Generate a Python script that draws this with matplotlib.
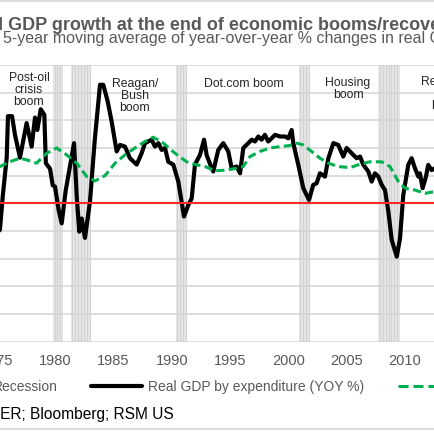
import numpy as np
import matplotlib
matplotlib.use("Agg")
import matplotlib.pyplot as plt
import matplotlib.transforms as mtrans
from matplotlib.lines import Line2D
from matplotlib.patches import Rectangle

plt.rcParams['font.family'] = ['Liberation Sans', 'DejaVu Sans']

# ---------------- data ----------------
gdp_years = [1975.0, 1975.36, 1975.6, 1975.94, 1976.05, 1976.4, 1976.65, 1977.08, 1977.65,
             1978.08, 1978.37, 1978.57, 1978.86, 1979.17, 1979.3, 1979.66, 1979.89, 1980.09,
             1980.4, 1980.66, 1981.0, 1981.72, 1981.95, 1982.17, 1982.38, 1982.66, 1983.09,
             1983.5, 1983.95, 1984.23, 1984.6, 1984.95, 1985.38, 1985.67, 1986.09, 1986.52,
             1987.1, 1987.52, 1987.81, 1988.09, 1988.38, 1988.67, 1988.96, 1989.24, 1989.53,
             1989.81, 1990.24, 1990.67, 1991.16, 1991.53, 1991.82, 1992.1, 1992.53, 1992.88,
             1993.1, 1993.5, 1993.67, 1994.1, 1994.53, 1994.96, 1995.25, 1995.68, 1995.97,
             1996.25, 1996.68, 1996.97, 1997.25, 1997.54, 1997.82, 1998.1, 1998.39, 1998.68,
             1998.97, 1999.4, 1999.83, 2000.11, 2000.4, 2000.54, 2000.97, 2001.4, 2001.89,
             2002.25, 2002.54, 2002.83, 2003.26, 2003.55, 2003.98, 2004.4, 2004.83, 2005.12,
             2005.55, 2005.98, 2006.27, 2006.55, 2006.98, 2007.27, 2007.55, 2007.84, 2008.13,
             2008.41, 2008.7, 2008.99, 2009.42, 2009.7, 2009.98, 2010.41, 2010.7, 2010.98,
             2011.27, 2011.41, 2011.64, 2011.93, 2012.12, 2012.41, 2012.7, 2012.9]
gdp_yoy = [-2.3, -1.9, 0.5, 3.3, 6.3, 6.3, 4.95, 3.3, 5.8,
           4.1, 6.2, 5.3, 6.8, 6.4, 2.9, 2.5, 1.3, 1.2,
           -0.5, -1.45, 0.9, 4.35, 0.5, -2.05, -1.1, -2.5, 0.15,
           4.6, 8.57, 8.57, 7.4, 5.9, 3.75, 4.22, 4.1, 3.26,
           2.8, 3.62, 4.35, 4.47, 4.6, 4.1, 4.35, 3.86, 4.0,
           3.0, 2.8, 1.57, -0.96, -0.12, 0.36, 2.8, 3.5, 4.6,
           3.5, 2.6, 2.3, 3.86, 4.35, 3.75, 2.54, 2.66, 2.17,
           4.0, 4.35, 4.6, 4.47, 4.83, 4.6, 4.95, 4.47, 4.7,
           4.95, 4.83, 4.83, 4.7, 5.3, 4.35, 2.78, 1.09, 0.24,
           1.33, 1.45, 2.17, 1.93, 3.26, 4.35, 4.22, 3.38, 4.0,
           3.62, 3.26, 3.38, 2.78, 2.3, 1.57, 2.17, 1.93, 1.33,
           0.96, -0.6, -2.66, -3.86, -2.54, 0.6, 2.78, 3.26, 2.54,
           1.93, 2.17, 1.09, 1.93, 2.78, 2.4, 2.54, 2.4]

ma_years = [1975.0, 1975.36, 1976.2, 1977.08, 1977.65, 1978.5, 1979.37, 1980.23, 1981.09,
            1981.95, 1982.81, 1983.52, 1984.38, 1985.24, 1986.09, 1986.95, 1987.81, 1988.52,
            1989.38, 1990.39, 1991.39, 1992.25, 1992.96, 1993.82, 1994.82, 1995.68, 1996.25,
            1996.82, 1997.68, 1998.54, 1999.4, 2000.26, 2000.83, 2001.4, 2002.11, 2002.83,
            2003.55, 2004.4, 2005.4, 2006.27, 2007.12, 2008.13, 2008.84, 2009.56, 2010.13,
            2010.98, 2011.84, 2012.7, 2013.0]
ma_vals = [2.55, 2.66, 3.0, 3.26, 3.14, 2.9, 3.62, 4.0, 3.5,
           2.9, 1.93, 1.62, 2.0, 2.9, 3.5, 4.0, 4.47, 4.78,
           4.35, 3.62, 3.0, 2.78, 2.66, 2.35, 2.4, 2.54, 2.66,
           3.38, 3.75, 4.0, 4.1, 4.18, 4.35, 4.22, 3.75, 3.26,
           2.9, 2.66, 2.58, 2.83, 3.0, 3.0, 2.66, 1.57, 1.09,
           0.96, 0.72, 0.85, 0.9]

recession_start = [1973.85, 1979.92, 1981.46, 1990.47, 2001.0, 2007.84]
recession_end = [1975.25, 1980.77, 1983.09, 1991.44, 2002.0, 2009.7]

xtick_years = [1975, 1980, 1985, 1990, 1995, 2000, 2005, 2010, 2015]
yticks = [-10, -8, -6, -4, -2, 0, 2, 4, 6, 8, 10]

boom_labels = ["Post-oil\ncrisis\nboom", "Reagan/\nBush\nboom", "Dot.com boom",
               "Housing\nboom", "Recovery\n\nboom"]
boom_x = [1977.85, 1986.95, 1996.27, 2005.24, 2013.73]
boom_y = [8.26, 7.8, 8.7, 8.34, 7.98]

title = "Real GDP growth at the end of economic booms/recoveries"
subtitle = "5-year moving average of year-over-year % changes in real GDP"
source = "Source: NBER; Bloomberg; RSM US"
legend_labels = ["Recession", "Real GDP by expenditure (YOY %)", "5-year moving average"]

# ---------------- layout ----------------
W = H = 435.0
fig = plt.figure(figsize=(4.35, 4.35), dpi=100, facecolor='white')

def fx(px):
    return px / W

def fy(py):
    return 1 - py / H

xmin, xmax = 1972.0, 2015.0
px_per_year = 11.65
left_px = 54 + (xmin - 1980) * px_per_year
right_px = 54 + (xmax - 1980) * px_per_year
top_px, bot_px = 66.0, 342.6
ax = fig.add_axes([fx(left_px), fy(bot_px), (right_px - left_px) / W, (bot_px - top_px) / H])
ax.set_xlim(xmin, xmax)
ax.set_ylim(-10, 10)
for s in ax.spines.values():
    s.set_visible(False)
ax.set_yticks(yticks)
ax.set_xticks(xtick_years)
ax.set_xticklabels([str(y) for y in xtick_years])
ax.tick_params(axis='both', length=0, labelsize=10.5, labelcolor='#595959')
ax.tick_params(axis='x', pad=8.5)
shift = mtrans.ScaledTranslation(1.3 / 100, 0, fig.dpi_scale_trans)
for lbl in ax.get_xticklabels():
    lbl.set_transform(lbl.get_transform() + shift)

# recession bars
for s0, s1 in zip(recession_start, recession_end):
    ax.axvspan(s0, s1, color='#e5e5e5', lw=0, zorder=1)
    for m in np.arange(s0 + 1 / 8, s1, 1 / 4):
        ax.axvline(m, color='#d3d3d3', lw=0.75, zorder=1.1, snap=True)

# horizontal gridlines
for v in yticks:
    ax.axhline(v, color='#d4d4d4', lw=1.1, zorder=1.5)

ax.plot(gdp_years, gdp_yoy, color='black', lw=3.0, solid_joinstyle='round',
        solid_capstyle='round', zorder=3)
ax.plot(ma_years, ma_vals, color='#00b050', lw=2.2, dashes=(2.7, 1.4), zorder=4)
ax.axhline(0, color='#ff2a2a', lw=1.5, zorder=5)

for lab, x, y in zip(boom_labels, boom_x, boom_y):
    ax.text(x, y, lab, ha='center', va='center', fontsize=8.8, color='#262626',
            linespacing=1.0, zorder=6)

# ---------------- text ----------------
renderer = fig.canvas.get_renderer()

def text_w(s, **kw):
    t = fig.text(0, 0, s, **kw)
    w = t.get_window_extent(renderer).width
    t.remove()
    return w

tkw = dict(fontsize=13, fontweight='bold', color='#595959')
off = text_w("Real GDP", **tkw) - text_w("GDP", **tkw)
fig.text(fx(8 - off), fy(30.5), title, ha='left', va='baseline', **tkw)

skw = dict(fontsize=11.5, color='#595959')
fig.text(fx(3), fy(43.5), subtitle, ha='left', va='baseline', **skw)

# legend
lkw = dict(fontsize=10, color='#595959')
fig.add_artist(Rectangle((fx(-45), fy(393)), 30 / W, 12 / H, transform=fig.transFigure,
                         facecolor='#d9d9d9', edgecolor='none'))
fig.text(fx(57.5), fy(387), legend_labels[0], ha='right', va='center', **lkw)
fig.add_artist(Line2D([fx(91), fx(142)], [fy(387), fy(387)], transform=fig.transFigure,
                      color='black', lw=3.0, solid_capstyle='round'))
fig.text(fx(148), fy(387), legend_labels[1], ha='left', va='center', **lkw)
fig.add_artist(Line2D([fx(398), fx(450)], [fy(387), fy(387)], transform=fig.transFigure,
                      color='#00b050', lw=2.2, dashes=(3.3, 1.6)))
fig.text(fx(456), fy(387), legend_labels[2], ha='left', va='center', **lkw)

# source
ckw = dict(fontsize=11.2, color='black')
off = text_w("Source: NBER", **ckw) - text_w("ER", **ckw)
fig.text(fx(0.5 - off), fy(415), source, ha='left', va='center', **ckw)

# frame lines
for yy in (1.5, 430):
    fig.add_artist(Line2D([0, 1], [fy(yy), fy(yy)], transform=fig.transFigure,
                          color='#d4d4d4', lw=1.2))

fig.savefig("out.png", dpi=100, facecolor='white')
